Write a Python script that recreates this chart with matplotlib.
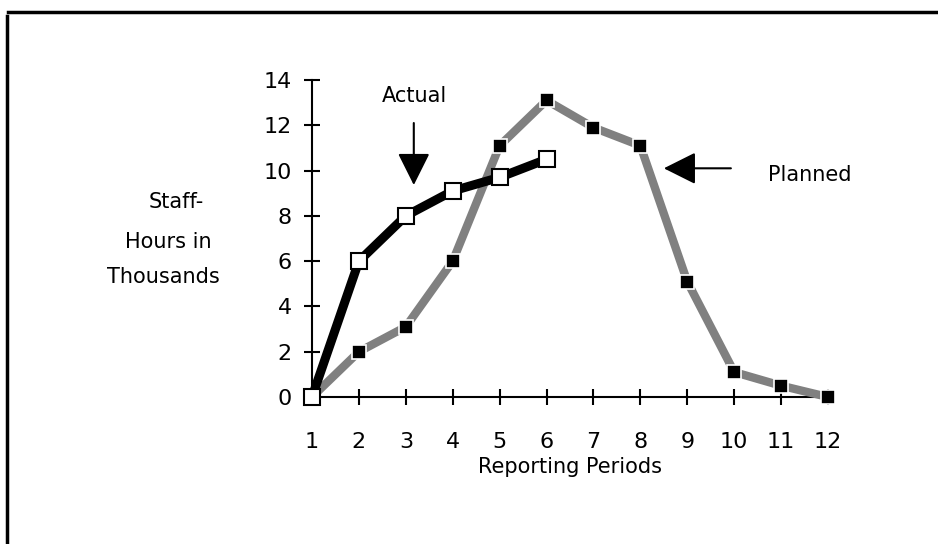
import matplotlib
matplotlib.use("Agg")
import matplotlib.pyplot as plt
from matplotlib.lines import Line2D

periods = list(range(1, 13))
planned = [0, 2.0, 3.1, 6.0, 11.1, 13.1, 11.9, 11.1, 5.1, 1.1, 0.5, 0]
actual_periods = [1, 2, 3, 4, 5, 6]
actual = [0, 6.0, 8.0, 9.1, 9.7, 10.5]
yticks = [0, 2, 4, 6, 8, 10, 12, 14]
ylabel_lines = ['Staff-', 'Hours in', 'Thousands']

plt.rcParams['font.family'] = ['DejaVu Sans']
fig = plt.figure(figsize=(9.38, 5.44), dpi=100)
ax = fig.add_axes([312/938, 1-397/544, (828-312)/938, (397-80)/544])

ax.plot(periods, planned, color='#808080', lw=6, solid_joinstyle='miter',
        marker='s', ms=10, mfc='black', mec='white', mew=1.2, clip_on=False, zorder=3)
ax.plot(actual_periods, actual, color='black', lw=6.5, solid_joinstyle='miter',
        marker='s', ms=11, mfc='white', mec='black', mew=1.5, clip_on=False, zorder=4)

ax.set_xlim(1, 12)
ax.set_ylim(0, 14)
ax.set_xticks(periods)
ax.set_yticks(yticks)
for s in ['top', 'right']:
    ax.spines[s].set_visible(False)
for s in ['left', 'bottom']:
    ax.spines[s].set_linewidth(1.5)
ax.tick_params(direction='inout', length=12, width=1.5, labelsize=16)
ax.tick_params(axis='x', pad=19)
ax.tick_params(axis='y', pad=8.5)

ax.set_xlabel('Reporting Periods', fontsize=15, labelpad=4)
for txt, xc, yc in zip(ylabel_lines, [176, 168, 163], [202, 242, 277]):
    fig.text(xc/938, 1-yc/544, txt, ha='center', va='center', fontsize=15)

arrow_props = dict(arrowstyle='-|>,head_length=1.0,head_width=0.5', color='black',
                   lw=1.5, mutation_scale=20, shrinkA=0, shrinkB=0)
ax.annotate('', xy=(3.17, 9.36), xytext=(3.17, 12.1), arrowprops=arrow_props)
ax.text(3.19, 13.3, 'Actual', ha='center', va='center', fontsize=15)
ax.annotate('', xy=(8.5, 10.1), xytext=(9.93, 10.1), arrowprops=arrow_props)
ax.text(11.62, 9.8, 'Planned', ha='center', va='center', fontsize=15)

fig.add_artist(Line2D([8/938, 1], [1-11.5/544, 1-11.5/544], transform=fig.transFigure, color='black', lw=2.5))
fig.add_artist(Line2D([7/938, 7/938], [1-16/544, 0], transform=fig.transFigure, color='black', lw=2.5))

fig.savefig('out.png', dpi=100)
